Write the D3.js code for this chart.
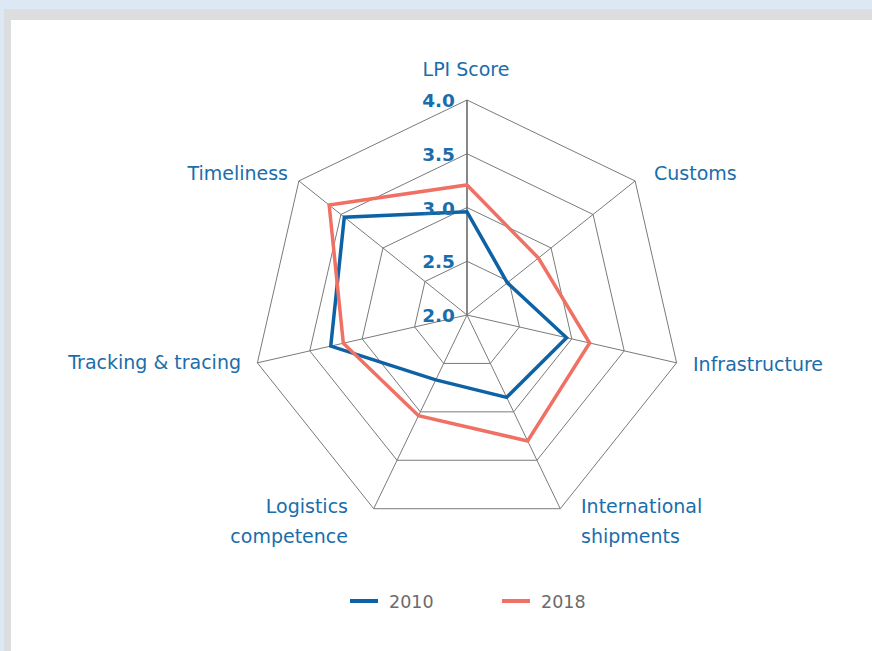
<!DOCTYPE html>
<html>
<head>
<meta charset="utf-8">
<script src="https://cdnjs.cloudflare.com/ajax/libs/d3/7.8.5/d3.min.js"></script>
<style>
  html, body { margin: 0; padding: 0; background: #dde8f5; }
  svg { display: block; }
</style>
</head>
<body>
<svg></svg>
<script>
var viewWidth = 872;
var viewHeight = 651;

var categories = ["LPI Score", "Customs", "Infrastructure", "International shipments",
  "Logistics competence", "Tracking & tracing", "Timeliness"];
var series = ["2010", "2018"];
var values2010 = [2.96, 2.48, 2.95, 2.85, 2.67, 3.30, 3.46];
var values2018 = [3.21, 2.85, 3.17, 3.30, 3.04, 3.18, 3.64];
var tickValues = [2.0, 2.5, 3.0, 3.5, 4.0];
var colors = ["#0d62a6", "#f07163"];

var cx = 467, cy = 315, radius = 215;
var textBlue = "#1a6dab";
var font = "DejaVu Sans, sans-serif";

var svg = d3.select("svg")
  .attr("width", viewWidth)
  .attr("height", viewHeight);

// frame: light blue band, grey border, white panel
svg.append("rect").attr("x", 4).attr("y", 9).attr("width", viewWidth - 4).attr("height", viewHeight - 9).attr("fill", "#dcdddf");
svg.append("rect").attr("x", 11).attr("y", 20).attr("width", viewWidth - 11).attr("height", viewHeight - 20).attr("fill", "#ffffff");

var rScale = d3.scaleLinear().domain([2, 4]).range([0, radius]);
var n = categories.length;
function angle(i) { return -Math.PI / 2 + i * 2 * Math.PI / n; }
function pt(i, v) {
  var a = angle(i), r = rScale(v);
  return [cx + r * Math.cos(a), cy + r * Math.sin(a)];
}

var g = svg.append("g");

// grid rings
tickValues.slice(1).forEach(function(t) {
  var pts = d3.range(n).map(function(i) { return pt(i, t); });
  g.append("polygon")
    .attr("points", pts.map(function(p) { return p.join(","); }).join(" "))
    .attr("fill", "none")
    .attr("stroke", "#7a7a7a")
    .attr("stroke-width", 1);
});

// spokes
d3.range(n).forEach(function(i) {
  var p = pt(i, 4);
  g.append("line")
    .attr("x1", cx).attr("y1", cy)
    .attr("x2", p[0]).attr("y2", p[1])
    .attr("stroke", i === 0 ? "#6a6a6a" : "#7a7a7a")
    .attr("stroke-width", i === 0 ? 1.6 : 1);
});

// series
var line = d3.line().curve(d3.curveLinearClosed);
[values2010, values2018].forEach(function(vals, k) {
  g.append("path")
    .attr("d", line(vals.map(function(v, i) { return pt(i, v); })))
    .attr("fill", "none")
    .attr("stroke", colors[k])
    .attr("stroke-width", 3.5)
    .attr("stroke-linejoin", "miter");
});

// tick labels
g.selectAll(".tick").data(tickValues).enter().append("text")
  .attr("x", cx - 12)
  .attr("y", function(d) { return cy - rScale(d) + 7; })
  .attr("text-anchor", "end")
  .attr("font-family", font)
  .attr("font-weight", "bold")
  .attr("font-size", 18.5)
  .attr("fill", textBlue)
  .text(function(d) { return d.toFixed(1); });

// category labels
var labelPos = [
  {x: 466, y: 76, anchor: "middle", lines: ["LPI Score"]},
  {x: 654, y: 180, anchor: "start", lines: ["Customs"]},
  {x: 693, y: 371, anchor: "start", lines: ["Infrastructure"]},
  {x: 581, y: 513, anchor: "start", lines: ["International", "shipments"]},
  {x: 348, y: 513, anchor: "end", lines: ["Logistics", "competence"]},
  {x: 241, y: 369, anchor: "end", lines: ["Tracking & tracing"]},
  {x: 288, y: 180, anchor: "end", lines: ["Timeliness"]}
];
labelPos.forEach(function(l) {
  var t = g.append("text")
    .attr("x", l.x).attr("y", l.y)
    .attr("text-anchor", l.anchor)
    .attr("font-family", font)
    .attr("font-size", 19)
    .attr("fill", textBlue);
  l.lines.forEach(function(s, j) {
    t.append("tspan").attr("x", l.x).attr("dy", j === 0 ? 0 : 30).text(s);
  });
});

// legend
var legendX = [350, 502];
series.forEach(function(s, k) {
  svg.append("line")
    .attr("x1", legendX[k]).attr("x2", legendX[k] + 28)
    .attr("y1", 601).attr("y2", 601)
    .attr("stroke", colors[k]).attr("stroke-width", 4);
  svg.append("text")
    .attr("x", legendX[k] + 39).attr("y", 608)
    .attr("font-family", font)
    .attr("font-size", 17.5)
    .attr("fill", "#6b6b6b")
    .text(s);
});
</script>
</body>
</html>
